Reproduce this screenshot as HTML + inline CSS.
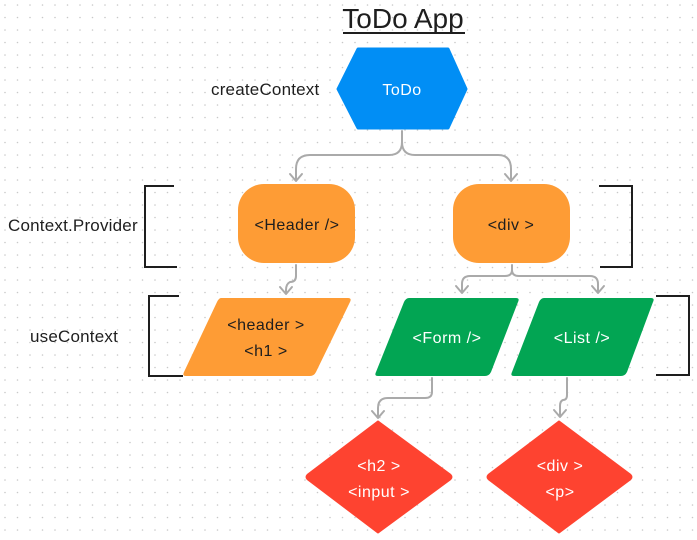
<!DOCTYPE html>
<html><head><style>
html,body{margin:0;padding:0;background:#fff}
svg{display:block}
text{font-family:"Liberation Sans",Arial,sans-serif}
.n{font-size:16px;letter-spacing:0.5px}
.s{font-size:17px;letter-spacing:0.2px}
</style></head><body>
<svg width="697" height="540" viewBox="0 0 697 540" xmlns="http://www.w3.org/2000/svg">
<defs>
<pattern id="dots" width="12.5" height="12.5" patternUnits="userSpaceOnUse" x="4" y="4">
<circle cx="1" cy="1" r="0.8" fill="#c8c8c8"/>
</pattern>
</defs>
<rect width="697" height="540" fill="#fff"/>
<rect width="697" height="540" fill="url(#dots)"/>

<text x="403" y="28" font-size="28" text-anchor="middle" fill="#1e1e1e">ToDo App</text>
<line x1="343" y1="33" x2="465" y2="33" stroke="#1e1e1e" stroke-width="2"/>

<path d="M358,49 H448 L466,89 L448,128 H358 L338,89 Z" fill="#018ef5" stroke="#018ef5" stroke-width="3" stroke-linejoin="round"/>
<text x="402" y="95" class="n" text-anchor="middle" fill="#fff">ToDo</text>
<text x="211" y="95" class="s" fill="#1e1e1e">createContext</text>

<g fill="none" stroke="#aaa" stroke-width="2" stroke-linecap="round" stroke-linejoin="round">
<path d="M402,131 V142 Q402,155 389,155 H310 Q296,155 296,169 V180"/>
<path d="M402,142 Q402,155 415,155 H498 Q511,155 511,169 V180"/>
<path d="M290,174 L296,181 L302,174"/>
<path d="M505,174 L511,181 L517,174"/>
<path d="M296,265 V276 Q296,282 290,282 Q286,284 286,290 V293"/>
<path d="M280,287 L286,294 L292,287"/>
<path d="M512,265 V270 Q512,276 505,276 H470 Q462,276 462,284 V292"/>
<path d="M512,270 Q512,276 519,276 H590 Q598,276 598,284 V292"/>
<path d="M456,286 L462,293 L468,286"/>
<path d="M592,286 L598,293 L604,286"/>
<path d="M432,378 V392 Q432,398 425,398 H388 Q378,398 378,408 V417"/>
<path d="M372,411 L378,418 L384,411"/>
<path d="M567,378 V395 Q567,400 563,400 Q560,401 560,406 V416"/>
<path d="M554,410 L560,417 L566,410"/>
</g>

<rect x="238" y="184" width="117" height="79" rx="26" fill="#fe9c35"/>
<text x="297" y="230" class="n" text-anchor="middle" fill="#1e1e1e">&lt;Header /&gt;</text>
<rect x="453" y="184" width="117" height="79" rx="26" fill="#fe9c35"/>
<text x="511" y="230" class="n" text-anchor="middle" fill="#1e1e1e">&lt;div &gt;</text>

<g fill="none" stroke="#1e1e1e" stroke-width="2">
<path d="M174,186 H145 V267 H177"/>
<path d="M599,186 H632 V267 H600"/>
<path d="M179,296 H149 V376 H183"/>
<path d="M656,296 H689 V375 H656"/>
</g>
<text x="8" y="231" class="s" fill="#1e1e1e">Context.Provider</text>
<text x="30" y="342" class="s" fill="#1e1e1e">useContext</text>

<path d="M221,298 H348 Q352,298 350,302 L316,372 Q314,376 310,376 H186 Q182,376 184,372 L217,302 Q219,298 221,298 Z" fill="#fe9c35"/>
<text x="266" y="330" class="n" text-anchor="middle" fill="#1e1e1e">&lt;header &gt;</text>
<text x="266" y="356" class="n" text-anchor="middle" fill="#1e1e1e">&lt;h1 &gt;</text>

<path d="M409,298 H516 Q520,298 518,302 L491,372 Q489,376 485,376 H378 Q374,376 376,372 L404,302 Q406,298 409,298 Z" fill="#02a553"/>
<text x="447" y="343" class="n" text-anchor="middle" fill="#fff">&lt;Form /&gt;</text>
<path d="M544,298 H651 Q655,298 653,302 L627,372 Q625,376 621,376 H514 Q510,376 512,372 L539,302 Q541,298 544,298 Z" fill="#02a553"/>
<text x="582" y="343" class="n" text-anchor="middle" fill="#fff">&lt;List /&gt;</text>

<path d="M379,421 L451,474 Q454,477 451,480 L379,533 Q378,534 377,533 L307,480 Q304,477 307,474 L377,421 Q378,420 379,421 Z" fill="#fe4330"/>
<text x="379" y="471" class="n" text-anchor="middle" fill="#fff">&lt;h2 &gt;</text>
<text x="379" y="497" class="n" text-anchor="middle" fill="#fff">&lt;input &gt;</text>
<path d="M560,421 L631,474 Q634,477 631,480 L560,533 Q559,534 558,533 L488,480 Q485,477 488,474 L558,421 Q559,420 560,421 Z" fill="#fe4330"/>
<text x="560" y="471" class="n" text-anchor="middle" fill="#fff">&lt;div &gt;</text>
<text x="560" y="497" class="n" text-anchor="middle" fill="#fff">&lt;p&gt;</text>
</svg>
</body></html>
